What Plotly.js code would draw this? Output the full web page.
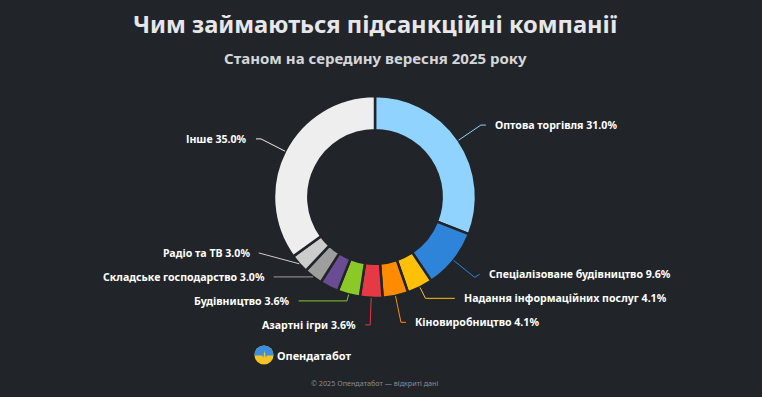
<!DOCTYPE html>
<html><head><meta charset="utf-8">
<script src="https://cdn.plot.ly/plotly-3.0.1.min.js"></script>
<style>html,body{margin:0;padding:0;background:#212429;overflow:hidden}#chart{width:762px;height:397px}</style>
</head><body><div id="chart"></div>
<script>
const categories = ["Оптова торгівля","Спеціалізоване будівництво","Надання інформаційних послуг","Кіновиробництво","Азартні ігри","Будівництво","Інша діяльність","Складське господарство","Радіо та ТВ","Інше"];
const shares = [31.0, 9.6, 4.1, 4.1, 3.6, 3.6, 3.0, 3.0, 3.0, 35.0];
const showLabel = [true, true, true, true, true, true, false, true, true, true];
const colors = ["#8fd3fe","#2e84d9","#ffc107","#ff8c00","#e63946","#8ac926","#6a4c93","#9e9e9e","#cccccc","#eeeeee"];
const titleText = "Чим займаються підсанкційні компанії";
const subtitleText = "Станом на середину вересня 2025 року";
const brandText = "Опендатабот";
const footerText = "© 2025 Опендатабот — відкриті дані";

const W = 762, H = 397, BG = "#212429";
const C = {x: 375, y: 197}, R = 101;
const L1 = 27, L2 = 5, RL = 129, GAP = 24, TXT = 7;
const FONT = "Noto Sans, sans-serif";
const px = x => x / W, py = y => 1 - y / H;

const total = shares.reduce((a, b) => a + b, 0);
let cum = 0;
const items = [];
shares.forEach((v, i) => {
  const mid = (cum + v / 2) / total * 2 * Math.PI;
  cum += v;
  if (!showLabel[i]) return;
  const d = {x: Math.sin(mid), y: -Math.cos(mid)};
  const edge = {x: C.x + R * d.x, y: C.y + R * d.y};
  const nat = {x: C.x + (R + L1) * d.x, y: C.y + (R + L1) * d.y};
  items.push({i, d, edge, nat, side: d.x >= 0 ? 1 : -1, y: nat.y});
});
[1, -1].forEach(s => {
  const g = items.filter(it => it.side === s).sort((a, b) => a.y - b.y);
  for (let k = g.length - 2; k >= 0; k--) g[k].y = Math.min(g[k].y, g[k + 1].y - GAP);
});

const shapes = [], annotations = [];
items.forEach(it => {
  const shift = Math.abs(it.y - it.nat.y);
  let elbow, endX;
  if (shift > 3.5) {
    const t = (it.y - it.edge.y) / it.d.y;
    if (t < 0) elbow = {x: it.edge.x, y: it.edge.y};
    else if (t <= L1) elbow = {x: it.edge.x + t * it.d.x, y: it.y};
    else elbow = it.nat;
    const dy = it.y - C.y;
    endX = C.x + it.side * Math.sqrt(Math.max(RL * RL - dy * dy, 0));
  } else {
    elbow = it.nat;
    endX = it.nat.x + it.side * L2;
  }
  shapes.push({type: "path", xref: "paper", yref: "paper",
    path: `M ${px(it.edge.x)} ${py(it.edge.y)} L ${px(elbow.x)} ${py(elbow.y)} L ${px(endX)} ${py(it.y)}`,
    line: {color: colors[it.i], width: 1}});
  annotations.push({xref: "paper", yref: "paper", x: px(endX + it.side * TXT), y: py(it.y),
    xanchor: it.side > 0 ? "left" : "right", yanchor: "middle", showarrow: false,
    text: `${categories[it.i]} ${shares[it.i].toFixed(1)}%`,
    font: {family: FONT, size: 10.6, color: "#ffffff", weight: "bold"}});
});

annotations.push({xref: "paper", yref: "paper", x: px(375), y: py(58), xanchor: "center", yanchor: "middle",
  showarrow: false, text: subtitleText, font: {family: FONT, size: 15, color: "#d4d6da", weight: "bold"}});
annotations.push({xref: "paper", yref: "paper", x: px(275), y: py(355), xanchor: "left", yanchor: "middle",
  showarrow: false, text: brandText, font: {family: FONT, size: 11, color: "#ffffff", weight: "bold"}});
annotations.push({xref: "paper", yref: "paper", x: px(375), y: py(383), xanchor: "center", yanchor: "middle",
  showarrow: false, text: footerText, font: {family: FONT, size: 7.2, color: "#8a8d92"}});

const logoSvg = '<svg xmlns="http://www.w3.org/2000/svg" width="40" height="40" viewBox="0 0 20 20"><defs><clipPath id="c"><circle cx="10" cy="10" r="9.5"/></clipPath></defs><g clip-path="url(#c)"><rect width="20" height="20" fill="#f5c424"/><path d="M0 0 H20 V10.5 H13 L11.8 12.5 L10.6 5.5 L9.2 12.8 L8 10.5 H0 Z" fill="#3b8fe0"/></g></svg>';

const data = [{
  type: "pie", labels: categories, values: shares, sort: false, direction: "clockwise", rotation: 0,
  hole: 0.66, textinfo: "none", hoverinfo: "none",
  marker: {colors: colors, line: {color: BG, width: 2.5}},
  domain: {x: [px(C.x - R), px(C.x + R)], y: [py(C.y + R), py(C.y - R)]},
  showlegend: false
}];
const layout = {
  width: W, height: H, margin: {l: 0, r: 0, t: 0, b: 0},
  paper_bgcolor: BG, plot_bgcolor: BG, showlegend: false,
  title: {text: titleText, x: px(375), xanchor: "center", xref: "paper", y: py(25), yanchor: "middle", yref: "container",
    font: {family: FONT, size: 23.7, color: "#e6e7ea", weight: "bold"}},
  shapes, annotations,
  images: [{source: "data:image/svg+xml;charset=utf-8," + encodeURIComponent(logoSvg), xref: "paper", yref: "paper",
    x: px(264), y: py(355), sizex: px(20), sizey: 20 / H, xanchor: "center", yanchor: "middle", sizing: "contain", layer: "above"}]
};
Plotly.newPlot("chart", data, layout, {displayModeBar: false, staticPlot: true});
</script></body></html>
